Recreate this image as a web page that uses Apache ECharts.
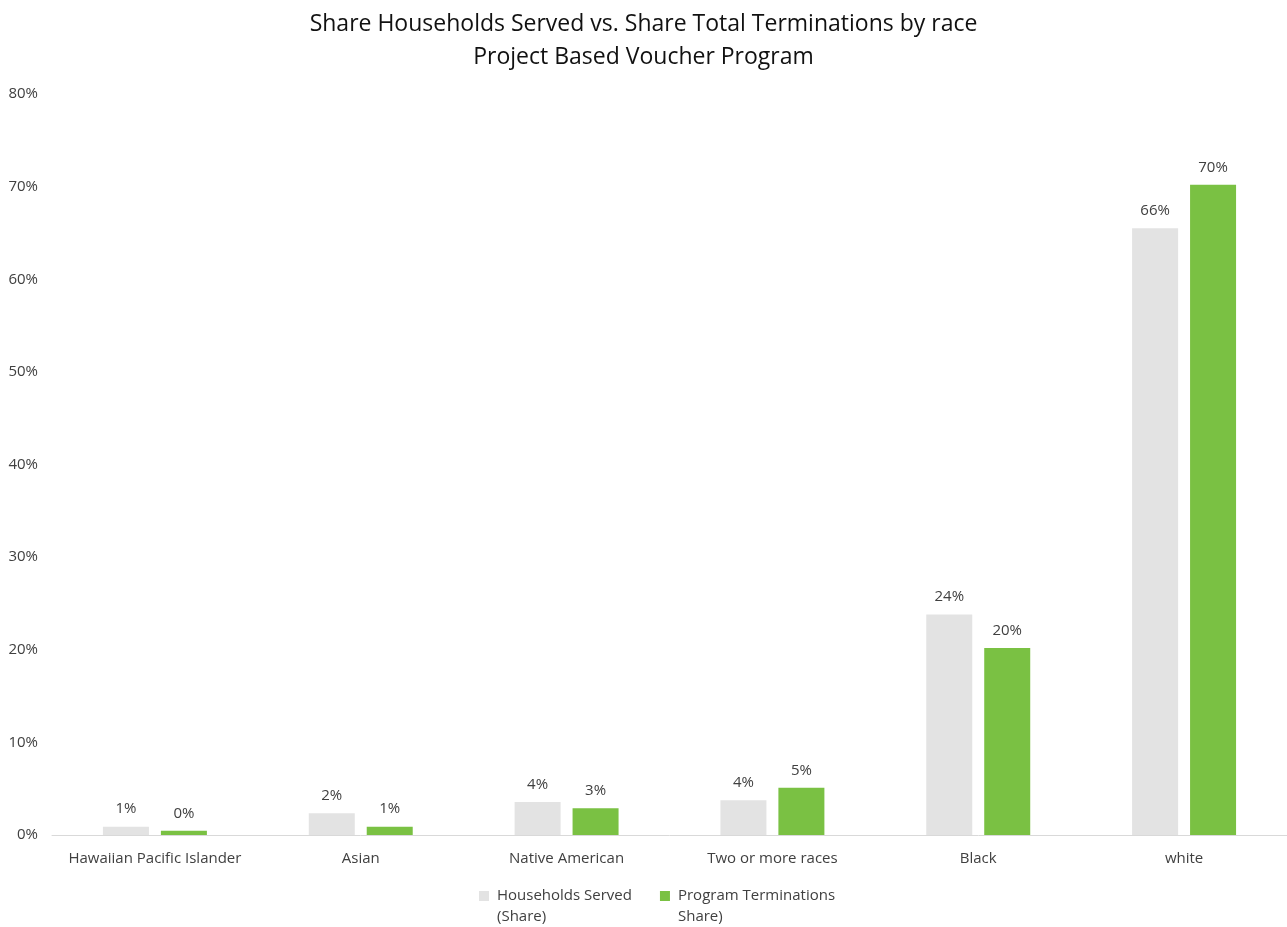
<!DOCTYPE html>
<html>
<head>
<meta charset="utf-8">
<style>
  html, body { margin: 0; padding: 0; background: #ffffff; }
  #chart { width: 1287px; height: 927px; }
</style>
<script src="https://cdn.jsdelivr.net/npm/echarts@6/dist/echarts.min.js"></script>
</head>
<body>
<div id="chart"></div>
<script>
// Race categories along the x axis
const categories = ['Hawaiian Pacific Islander', 'Asian', 'Native American', 'Two or more races', 'Black', 'white'];

// Share of households served, percent
const householdsServed = [0.9, 2.35, 3.55, 3.75, 23.8, 65.5];

// Share of program terminations, percent
const programTerminations = [0.45, 0.9, 2.9, 5.1, 20.2, 70.2];

// Y axis tick range (percent)
const yMin = 0;
const yMax = 80;
const yStep = 10;

const seriesNames = ['Households Served\n(Share)', 'Program Terminations\nShare)'];

const FONT = '"Open Sans", "Noto Sans", sans-serif';

// Legend marker: a square sitting beside the first of two text lines
// (the tiny corner dots only stretch the path's bounding box).
const legendMarker = 'path://M0,6H10V16H0Z M0,0H0.01V0.01H0Z M0,42H0.01V41.99H0Z';

const chart = echarts.init(document.getElementById('chart'), null, { renderer: 'canvas' });

const labelStyle = {
  show: true,
  position: 'top',
  distance: 10,
  color: '#404040',
  fontFamily: FONT,
  fontSize: 15,
  formatter: p => Math.round(p.value) + '%'
};

chart.setOption({
  animation: false,
  backgroundColor: '#ffffff',
  title: {
    text: 'Share Households Served vs. Share Total Terminations by race\nProject Based Voucher Program',
    left: 'center',
    top: 3,
    textStyle: {
      fontFamily: FONT,
      fontSize: 23,
      fontWeight: 'normal',
      color: '#111111',
      lineHeight: 33
    }
  },
  legend: {
    top: 880,
    left: 474,
    itemWidth: 10,
    itemHeight: 42,
    itemGap: 28,
    icon: legendMarker,
    textStyle: {
      fontFamily: FONT,
      fontSize: 15,
      color: '#404040',
      lineHeight: 21,
      padding: [0, 0, 0, 3]
    },
    data: seriesNames
  },
  grid: {
    left: 52,
    right: 0,
    top: 94,
    bottom: 92,
    containLabel: false
  },
  xAxis: {
    type: 'category',
    data: categories,
    axisLine: { lineStyle: { color: '#d9d9d9', width: 1 } },
    axisTick: { show: false },
    axisLabel: {
      color: '#404040',
      fontFamily: FONT,
      fontSize: 15,
      margin: 16,
      interval: 0
    }
  },
  yAxis: {
    type: 'value',
    min: yMin,
    max: yMax,
    interval: yStep,
    splitLine: { show: false },
    axisLine: { show: false },
    axisTick: { show: false },
    axisLabel: {
      color: '#404040',
      fontFamily: FONT,
      fontSize: 15,
      margin: 14,
      formatter: v => v + '%'
    }
  },
  series: [
    {
      name: seriesNames[0],
      type: 'bar',
      data: householdsServed,
      barWidth: 46,
      barGap: '26%',
      itemStyle: { color: '#e3e3e3' },
      label: labelStyle
    },
    {
      name: seriesNames[1],
      type: 'bar',
      data: programTerminations,
      barWidth: 46,
      itemStyle: { color: '#7ac143' },
      label: labelStyle
    }
  ]
});
</script>
</body>
</html>
